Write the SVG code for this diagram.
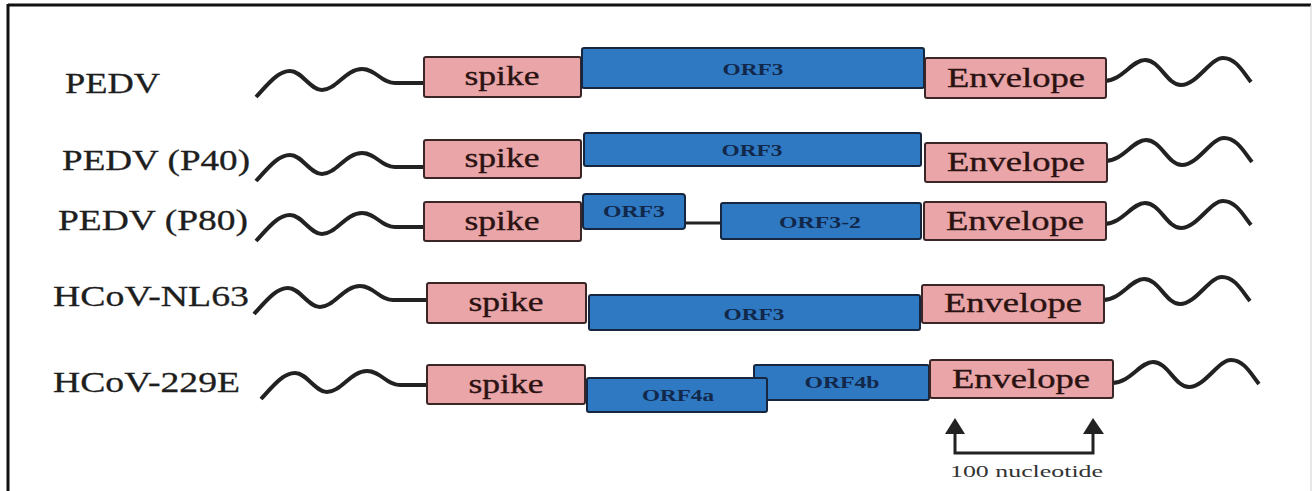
<svg xmlns="http://www.w3.org/2000/svg" width="1312" height="491" viewBox="0 0 1312 491">
  <defs>
    <path id="lw" d="M256,97 C268,84 278,71 290,71 C302,71 310,90 322,90 C336,90 346,69 362,69 C376,69 381,83 395,83 L428,83"/>
    <path id="rw" d="M1104,81 C1122,81 1132,60 1145,60 C1160,60 1167,85 1181,85 C1197,85 1210,58 1223,58 C1236,58 1243,72 1251,82"/>
  </defs>
  <style>
    .wave { fill: none; stroke: #222; stroke-width: 4; }
    .pink { fill: #e9a5a7; stroke: #3a2626; stroke-width: 2; }
    .blue { fill: #2f79c3; stroke: #16263e; stroke-width: 2; }
    .lbl { font-family: "Liberation Serif", "Times New Roman", serif; font-size: 30px; fill: #1e1e1e; stroke: #1e1e1e; stroke-width: 0.3; }
    .gene { font-family: "Liberation Serif", "Times New Roman", serif; font-size: 27px; fill: #2a1212; stroke: #2a1212; stroke-width: 0.35; text-anchor: middle; }
    .orf { font-family: "Liberation Serif", "Times New Roman", serif; font-size: 17px; font-weight: bold; fill: #12284a; text-anchor: middle; }
    .note { font-family: "Liberation Serif", "Times New Roman", serif; font-size: 17px; fill: #333; }
    .link { fill: none; stroke: #222; stroke-width: 3; }
  </style>
  <rect x="0" y="0" width="1312" height="491" fill="#ffffff"/>
  <g id="frame">
    <line x1="8" y1="5" x2="1311" y2="5" stroke="#111" stroke-width="3"/>
    <line x1="8" y1="4" x2="8" y2="491" stroke="#111" stroke-width="3"/>
    <line x1="1311" y1="5" x2="1311" y2="491" stroke="#d0d0d0" stroke-width="1"/>
  </g>

  <g id="connectors">
    <use href="#lw" class="wave"/>
    <use href="#rw" class="wave"/>
    <use href="#lw" class="wave" transform="translate(0,84)"/>
    <use href="#rw" class="wave" transform="translate(1,80)"/>
    <use href="#lw" class="wave" transform="translate(0,144)"/>
    <use href="#rw" class="wave" transform="translate(0,143)"/>
    <line x1="684" y1="223" x2="722" y2="223" class="link"/>
    <use href="#lw" class="wave" transform="translate(-2,217)"/>
    <use href="#rw" class="wave" transform="translate(-1,219)"/>
    <use href="#lw" class="wave" transform="translate(5,302)"/>
    <use href="#rw" class="wave" transform="translate(8,302)"/>
    <g id="scale">
      <polyline points="955,430 955,453 1093,453 1093,430" class="link"/>
      <polygon points="955,418 945,434 965,434" fill="#222"/>
      <polygon points="1093,418 1083,434 1104,434" fill="#222"/>
    </g>
  </g>

  <g id="row-pedv">
    <text class="lbl" x="65" y="93" textLength="95" lengthAdjust="spacingAndGlyphs">PEDV</text>
    <rect class="pink" x="424" y="57" width="157" height="40" rx="2"/>
    <text class="gene" x="502" y="85" textLength="75" lengthAdjust="spacingAndGlyphs">spike</text>
    <rect class="blue" x="582" y="48" width="342" height="40" rx="2"/>
    <text class="orf" x="753" y="75" textLength="61" lengthAdjust="spacingAndGlyphs">ORF3</text>
    <rect class="pink" x="925" y="58" width="181" height="40" rx="2"/>
    <text class="gene" x="1016" y="87" textLength="138" lengthAdjust="spacingAndGlyphs">Envelope</text>
  </g>

  <g id="row-p40">
    <text class="lbl" x="62" y="170" textLength="188" lengthAdjust="spacingAndGlyphs">PEDV (P40)</text>
    <rect class="pink" x="424" y="140" width="157" height="38" rx="2"/>
    <text class="gene" x="502" y="167" textLength="75" lengthAdjust="spacingAndGlyphs">spike</text>
    <rect class="blue" x="584" y="133" width="337" height="33" rx="2"/>
    <text class="orf" x="752" y="156" textLength="61" lengthAdjust="spacingAndGlyphs">ORF3</text>
    <rect class="pink" x="925" y="143" width="182" height="39" rx="2"/>
    <text class="gene" x="1016" y="171" textLength="138" lengthAdjust="spacingAndGlyphs">Envelope</text>
  </g>

  <g id="row-p80">
    <text class="lbl" x="58" y="230" textLength="190" lengthAdjust="spacingAndGlyphs">PEDV (P80)</text>
    <rect class="pink" x="424" y="202" width="157" height="39" rx="2"/>
    <text class="gene" x="502" y="230" textLength="75" lengthAdjust="spacingAndGlyphs">spike</text>
    <rect class="blue" x="583" y="194" width="102" height="35" rx="3"/>
    <text class="orf" x="634" y="217" textLength="62" lengthAdjust="spacingAndGlyphs">ORF3</text>
    <rect class="blue" x="721" y="203" width="200" height="36" rx="2"/>
    <text class="orf" x="820" y="228" textLength="82" lengthAdjust="spacingAndGlyphs">ORF3-2</text>
    <rect class="pink" x="924" y="202" width="182" height="38" rx="2"/>
    <text class="gene" x="1015" y="230" textLength="138" lengthAdjust="spacingAndGlyphs">Envelope</text>
  </g>

  <g id="row-nl63">
    <text class="lbl" x="53" y="306" textLength="196" lengthAdjust="spacingAndGlyphs">HCoV-NL63</text>
    <rect class="pink" x="427" y="283" width="159" height="40" rx="2"/>
    <text class="gene" x="506" y="311" textLength="75" lengthAdjust="spacingAndGlyphs">spike</text>
    <rect class="blue" x="589" y="295" width="331" height="35" rx="2"/>
    <text class="orf" x="754" y="320" textLength="61" lengthAdjust="spacingAndGlyphs">ORF3</text>
    <rect class="pink" x="922" y="285" width="182" height="38" rx="2"/>
    <text class="gene" x="1013" y="312" textLength="138" lengthAdjust="spacingAndGlyphs">Envelope</text>
  </g>

  <g id="row-229e">
    <text class="lbl" x="53" y="392" textLength="187" lengthAdjust="spacingAndGlyphs">HCoV-229E</text>
    <rect class="pink" x="427" y="365" width="158" height="39" rx="2"/>
    <text class="gene" x="506" y="393" textLength="75" lengthAdjust="spacingAndGlyphs">spike</text>
    <rect class="blue" x="754" y="365" width="175" height="35" rx="2"/>
    <text class="orf" x="842" y="388" textLength="75" lengthAdjust="spacingAndGlyphs">ORF4b</text>
    <rect class="blue" x="587" y="378" width="180" height="34" rx="2"/>
    <text class="orf" x="678" y="401" textLength="72" lengthAdjust="spacingAndGlyphs">ORF4a</text>
    <rect class="pink" x="930" y="360" width="183" height="38" rx="2"/>
    <text class="gene" x="1021" y="388" textLength="138" lengthAdjust="spacingAndGlyphs">Envelope</text>
  </g>

  <g id="scale-label">
    <text class="note" x="950" y="477" textLength="153" lengthAdjust="spacingAndGlyphs">100 nucleotide</text>
  </g>
</svg>
